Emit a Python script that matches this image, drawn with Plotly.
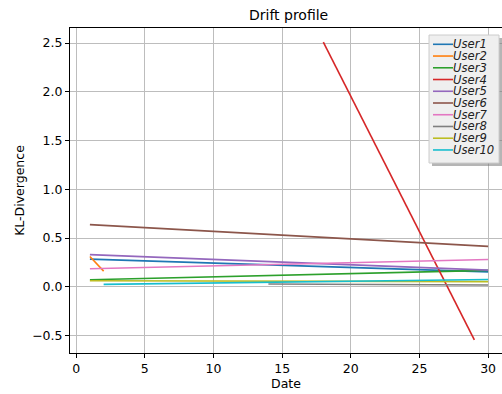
import plotly.graph_objects as go

users = ["User1", "User2", "User3", "User4", "User5",
         "User6", "User7", "User8", "User9", "User10"]
colors = ["#1f77b4", "#ff7f0e", "#2ca02c", "#d62728", "#9467bd",
          "#8c564b", "#e377c2", "#7f7f7f", "#bcbd22", "#17becf"]
dates = [
    [1, 30],   # User1
    [1, 2],    # User2
    [1, 30],   # User3
    [18, 29],  # User4
    [1, 30],   # User5
    [1, 30],   # User6
    [1, 30],   # User7
    [14, 30],  # User8
    [1, 30],   # User9
    [2, 30],   # User10
]
kl_values = [
    [0.283, 0.152],
    [0.31, 0.16],
    [0.072, 0.168],
    [2.51, -0.545],
    [0.329, 0.170],
    [0.637, 0.414],
    [0.185, 0.280],
    [0.028, 0.018],
    [0.062, 0.052],
    [0.024, 0.074],
]
x_ticks = [0, 5, 10, 15, 20, 25, 30]
y_ticks = [-0.5, 0.0, 0.5, 1.0, 1.5, 2.0, 2.5]
y_tick_text = ["\u22120.5", "0.0", "0.5", "1.0", "1.5", "2.0", "2.5"]

W, H = 502, 394
L, R, T, B = 70, 0, 28, 41
PW, PH = W - L - R, H - T - B


def px_x(p):
    return (p - L) / PW


def px_y(p):
    return (H - B - p) / PH


FONT = "DejaVu Sans"
fig = go.Figure()
for name, c, xs, ys in zip(users, colors, dates, kl_values):
    fig.add_trace(go.Scatter(x=xs, y=ys, mode="lines", name=name,
                             line=dict(color=c, width=1.6), showlegend=False))

shapes = []
annotations = []
# legend box with shadow
lx0, ly0, lx1, ly1 = 429, 35, 499, 163
shapes.append(dict(type="rect", xref="paper", yref="paper",
                   x0=px_x(lx0 + 3), x1=px_x(lx1 + 3), y0=px_y(ly0 + 3), y1=px_y(ly1 + 3),
                   fillcolor="rgba(120,120,120,0.55)", line=dict(width=0), layer="above"))
shapes.append(dict(type="rect", xref="paper", yref="paper",
                   x0=px_x(lx0), x1=px_x(lx1), y0=px_y(ly0), y1=px_y(ly1),
                   fillcolor="#efefef", line=dict(color="#cccccc", width=1), layer="above"))
for i, (name, c) in enumerate(zip(users, colors)):
    yc = 44.3 + i * 11.74
    shapes.append(dict(type="line", xref="paper", yref="paper",
                       x0=px_x(433), x1=px_x(453), y0=px_y(yc), y1=px_y(yc),
                       line=dict(color=c, width=1.6), layer="above"))
    annotations.append(dict(xref="paper", yref="paper", x=px_x(452), y=px_y(yc),
                            text="<i>%s</i>" % name, showarrow=False,
                            xanchor="left", yanchor="middle", borderpad=0,
                            font=dict(family=FONT, size=11.6, color="#222")))

fig.update_layout(
    width=W, height=H,
    margin=dict(l=L, r=R, t=T, b=B, autoexpand=False),
    paper_bgcolor="white", plot_bgcolor="white",
    title=dict(text="Drift profile", x=px_x(288.6), xref="paper", xanchor="center",
               y=1 - 15 / H, yref="container", yanchor="middle",
               font=dict(family=FONT, size=14, color="black")),
    font=dict(family=FONT, size=12.5, color="black"),
    shapes=shapes,
    annotations=annotations,
    xaxis=dict(range=[-0.45, -0.45 + PW / 13.73], tickvals=x_ticks, automargin=False,
               showgrid=True, gridcolor="#bdbdbd", gridwidth=1, zeroline=False,
               showline=True, linecolor="black", linewidth=1, mirror=True,
               ticks="outside", ticklen=4, tickcolor="black",
               title=dict(text="Date", font=dict(family=FONT, size=12.5), standoff=4)),
    yaxis=dict(range=[-0.68, 2.655], tickvals=y_ticks, ticktext=y_tick_text, automargin=False,
               showgrid=True, gridcolor="#bdbdbd", gridwidth=1, zeroline=False,
               showline=True, linecolor="black", linewidth=1, mirror=False,
               ticks="outside", ticklen=4, tickcolor="black",
               title=dict(text="KL-Divergence", font=dict(family=FONT, size=12.5), standoff=4)),
)
fig.write_html("out.html", config={"displayModeBar": False},
               post_script="document.body.style.margin='0';document.body.style.overflow='hidden';")
